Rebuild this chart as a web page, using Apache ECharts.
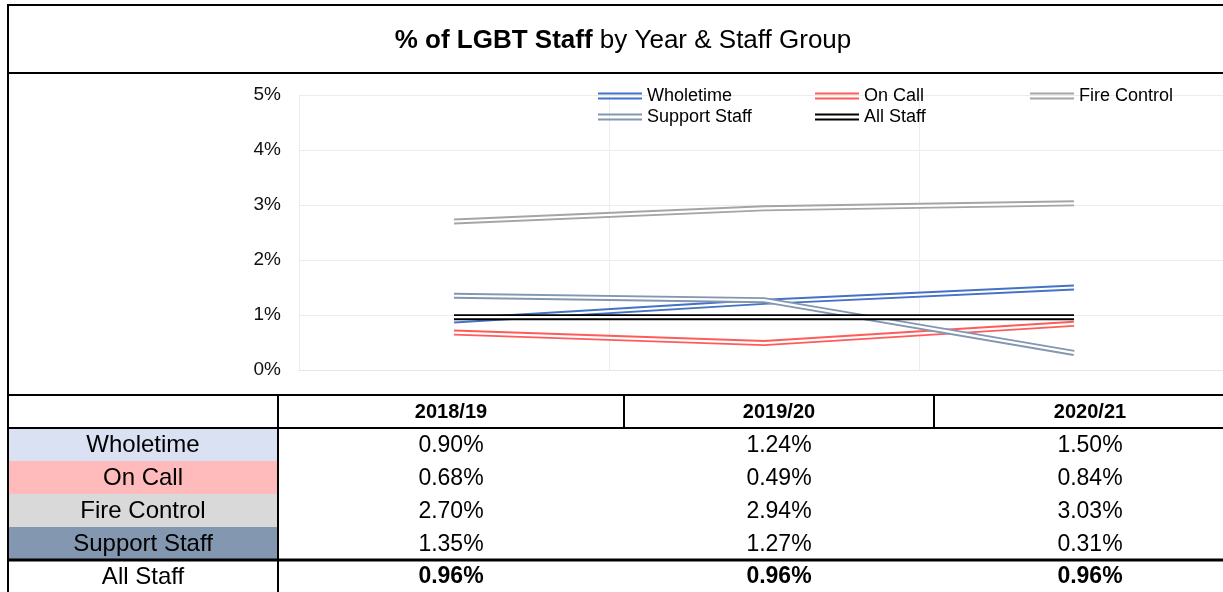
<!DOCTYPE html>
<html>
<head>
<meta charset="utf-8">
<script src="https://cdn.jsdelivr.net/npm/echarts@6/dist/echarts.min.js"></script>
<style>
  html, body { margin: 0; padding: 0; background: #fff; }
  #main { width: 1223px; height: 592px; }
</style>
</head>
<body>
<div id="main"></div>
<script>
// data (percent of staff)
var years = ['2018/19', '2019/20', '2020/21'];
var groups = ['Wholetime', 'On Call', 'Fire Control', 'Support Staff', 'All Staff'];
var wholetime = [0.90, 1.24, 1.50];
var onCall = [0.68, 0.49, 0.84];
var fireControl = [2.70, 2.94, 3.03];
var supportStaff = [1.35, 1.27, 0.31];
var allStaff = [0.96, 0.96, 0.96];
var yTicks = [0, 1, 2, 3, 4, 5];

var values = [wholetime, onCall, fireControl, supportStaff, allStaff];
var lineColors = ['#4472c4', '#ff5b5b', '#a5a5a5', '#8497b0', '#000000'];
var rowFills = ['#d9e1f2', '#ffbbbb', '#d9d9d9', '#8497b0', '#ffffff'];
var font = '"Liberation Sans", Arial, sans-serif';

var myChart = echarts.init(document.getElementById('main'));

// each line is a wide coloured stroke with a thin white one on top (double line look)
var series = [];
groups.forEach(function (g, i) {
  series.push({
    name: g, type: 'line', data: values[i], symbol: 'none',
    itemStyle: { color: lineColors[i] },
    lineStyle: { width: 6, color: lineColors[i], cap: 'butt' }
  });
  series.push({
    name: g + ' inner', type: 'line', data: values[i], symbol: 'none', silent: true,
    lineStyle: { width: 2.2, color: '#ffffff', cap: 'butt' }
  });
});

var legendBase = {
  orient: 'vertical', itemGap: 3, padding: 0, selectedMode: false,
  icon: 'path://M0,0H44V2H0Z M0,5H44V7H0Z', itemWidth: 44, itemHeight: 7,
  textStyle: { fontSize: 18, color: '#000', fontFamily: font }
};
function legendAt(data, left) {
  return Object.assign({}, legendBase, { data: data, left: left, top: 87 });
}

// table drawn under the plot
var g = [];
function hline(x1, x2, y, w) {
  g.push({ type: 'line', shape: { x1: x1, y1: y, x2: x2, y2: y }, style: { stroke: '#000', lineWidth: w } });
}
function vline(x, y1, y2, w) {
  g.push({ type: 'line', shape: { x1: x, y1: y1, x2: x, y2: y2 }, style: { stroke: '#000', lineWidth: w } });
}
function text(str, x, y, size, bold) {
  g.push({ type: 'text', x: x, y: y, style: {
    text: str, align: 'center', verticalAlign: 'middle', fill: '#000',
    fontSize: size, fontWeight: bold ? 'bold' : 'normal', fontFamily: font } });
}

var colCenters = [451, 779, 1090];
var rowTop = 428, rowH = 33;
groups.forEach(function (name, r) {
  var y0 = rowTop + r * rowH;
  var h = r === 4 ? 32 : rowH;
  g.push({ type: 'rect', shape: { x: 9, y: y0, width: 269, height: h }, style: { fill: rowFills[r] } });
  text(name, 143, y0 + h / 2 + 1, 24, false);
  values[r].forEach(function (v, c) {
    text(v.toFixed(2) + '%', colCenters[c], y0 + h / 2 + 1, 23, r === 4);
  });
});
years.forEach(function (y, c) { text(y, colCenters[c], 412, 20, true); });

// frame and table rules
vline(8, 4, 592, 2);
hline(8, 1223, 5, 2);
hline(8, 1223, 73, 2);
hline(8, 1223, 395, 2);
hline(8, 1223, 428, 2);
hline(8, 1223, 560, 3);
vline(278, 395, 592, 2);
vline(624, 395, 428, 2);
vline(934, 395, 428, 2);

g.push({ type: 'text', x: 623, y: 41, style: {
  text: '{b|% of LGBT Staff}{r| by Year & Staff Group}',
  align: 'center', verticalAlign: 'middle', fill: '#000',
  rich: {
    b: { fontSize: 26, fontWeight: 'bold', fontFamily: font, fill: '#000' },
    r: { fontSize: 26, fontFamily: font, fill: '#000' }
  } } });

var option = {
  animation: false,
  backgroundColor: '#fff',
  grid: { left: 299, top: 95, width: 930, height: 275, outerBoundsMode: 'none' },
  legend: [
    legendAt(['Wholetime', 'Support Staff'], 598),
    legendAt(['On Call', 'All Staff'], 815),
    legendAt(['Fire Control'], 1030)
  ],
  xAxis: {
    type: 'category', data: years, boundaryGap: true,
    axisLine: { lineStyle: { color: '#e6e6e6', width: 1 } },
    axisTick: { show: false },
    axisLabel: { show: false },
    splitLine: { show: true, lineStyle: { color: '#ececec', width: 1 } }
  },
  yAxis: {
    type: 'value', min: yTicks[0], max: yTicks[yTicks.length - 1], interval: 1,
    axisLine: { show: false },
    axisTick: { show: false },
    axisLabel: { formatter: '{value}%', fontSize: 19, color: '#111', fontFamily: font, margin: 18 },
    splitLine: { lineStyle: { color: '#ececec', width: 1 } }
  },
  series: series,
  graphic: g
};

myChart.setOption(option);
</script>
</body>
</html>
